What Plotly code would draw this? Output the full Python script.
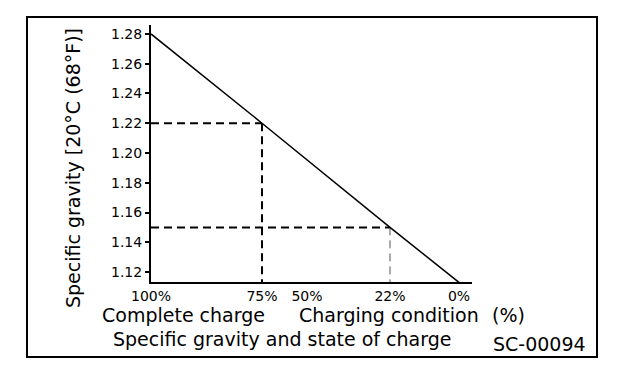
import plotly.graph_objects as go

# ---- data ----
charge_labels = ["100%", "75%", "50%", "22%", "0%"]
charge_pos = [0, 111, 156, 239, 308]          # position of each label on the horizontal scale
line_labels = ["100%", "75%", "22%", "0%"]
line_gravity = [1.28, 1.22, 1.15, 1.113]
ref_labels = ["75%", "22%"]
ref_gravity = [1.22, 1.15]
y_ticks = [1.12, 1.14, 1.16, 1.18, 1.20, 1.22, 1.24, 1.26, 1.28]

pos = dict(zip(charge_labels, charge_pos))
FONT = "DejaVu Sans"
Y_MIN, Y_MAX = 1.1133, 1.286
X_MAX = 321

fig = go.Figure()

# reference dashed lines
for i, (lab, g) in enumerate(zip(ref_labels, ref_gravity)):
    fig.add_trace(go.Scatter(x=[0, pos[lab]], y=[g, g], mode="lines",
                             line=dict(color="black", width=2, dash="8px,5px"),
                             hoverinfo="skip", showlegend=False))
    fig.add_trace(go.Scatter(x=[pos[lab], pos[lab]], y=[g, Y_MIN], mode="lines",
                             line=dict(color="black" if i == 0 else "#555",
                                       width=2 if i == 0 else 1, dash="8px,5px"),
                             hoverinfo="skip", showlegend=False))

# main line
fig.add_trace(go.Scatter(x=[pos[l] for l in line_labels], y=line_gravity, mode="lines",
                         line=dict(color="black", width=1.5), showlegend=False))

def px(xp):
    return (xp - 151) / 321

def py(yp):
    return (282 - yp) / 257

anns = [
    dict(text="Complete charge", x=px(183), y=py(315)),
    dict(text="Charging condition", x=px(389), y=py(315)),
    dict(text="(%)", x=px(508), y=py(315)),
    dict(text="Specific gravity and state of charge", x=px(282), y=py(339)),
    dict(text="SC-00094", x=px(539), y=py(344)),
]
for a in anns:
    fig.add_annotation(text=a["text"], x=a["x"], y=a["y"], xref="paper", yref="paper",
                       showarrow=False, xanchor="center", yanchor="middle", borderpad=0,
                       font=dict(family=FONT, size=19, color="black"))

# y title as rotated annotation
fig.add_annotation(text="Specific gravity [20°C (68°F)]", x=px(73), y=py(168),
                   xref="paper", yref="paper", showarrow=False, textangle=-90,
                   xanchor="center", yanchor="middle",
                   font=dict(family=FONT, size=19, color="black"))

# outer frame
fig.add_shape(type="rect", xref="paper", yref="paper",
              x0=px(27), x1=px(597), y0=py(357), y1=py(17),
              line=dict(color="black", width=2), fillcolor="rgba(0,0,0,0)")

fig.update_layout(
    width=624, height=370,
    margin=dict(l=151, r=152, t=25, b=88),
    paper_bgcolor="white", plot_bgcolor="white",
    font=dict(family=FONT, color="black"),
    xaxis=dict(range=[0, X_MAX], showgrid=False, zeroline=False, showline=True,
               linecolor="black", linewidth=2, tickvals=charge_pos, ticktext=charge_labels,
               ticks="", tickfont=dict(family=FONT, size=14, color="black"),
               ticklabelstandoff=0, fixedrange=True),
    yaxis=dict(range=[Y_MIN, Y_MAX], showgrid=False, zeroline=False, showline=True,
               linecolor="black", linewidth=2, tickvals=y_ticks,
               ticktext=[f"{v:.2f}" for v in y_ticks], ticks="outside", ticklen=4,
               tickwidth=1.5, tickcolor="black",
               tickfont=dict(family=FONT, size=14, color="black"), fixedrange=True),
)

fig.write_html("out.html", config={"displayModeBar": False},
               post_script="document.body.style.margin='0';")
